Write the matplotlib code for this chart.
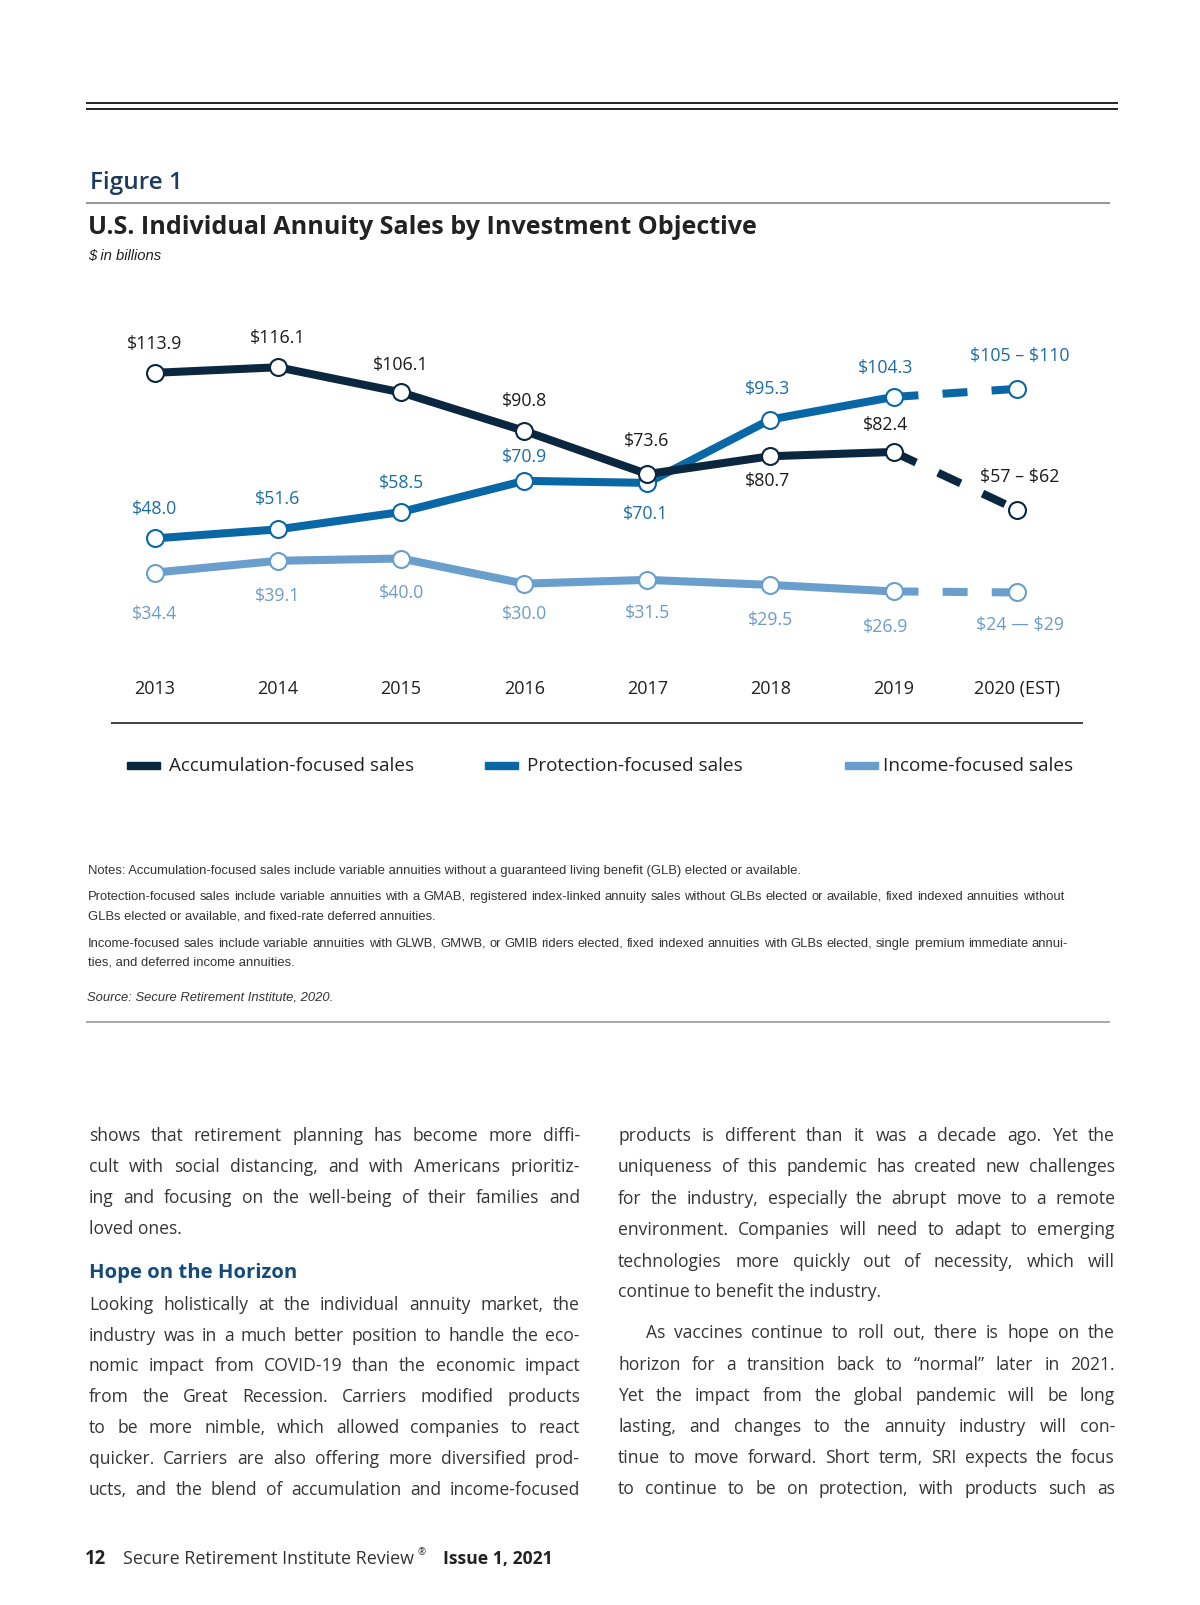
import matplotlib
matplotlib.use("Agg")
import matplotlib.pyplot as plt
from matplotlib.lines import Line2D
from matplotlib.patches import Rectangle

W, H = 1200, 1606

# ---- data ----
years = ["2013", "2014", "2015", "2016", "2017", "2018", "2019", "2020 (EST)"]
accumulation = [113.9, 116.1, 106.1, 90.8, 73.6, 80.7, 82.4, 59.5]
protection = [48.0, 51.6, 58.5, 70.9, 70.1, 95.3, 104.3, 107.5]
income = [34.4, 39.1, 40.0, 30.0, 31.5, 29.5, 26.9, 26.5]
acc_labels = ["$113.9", "$116.1", "$106.1", "$90.8", "$73.6", "$80.7", "$82.4", r"\$57 – \$62"]
pro_labels = ["$48.0", "$51.6", "$58.5", "$70.9", "$70.1", "$95.3", "$104.3", r"\$105 – \$110"]
inc_labels = ["$34.4", "$39.1", "$40.0", "$30.0", "$31.5", "$29.5", "$26.9", r"\$24 — \$29"]
series_names = ["Accumulation-focused sales", "Protection-focused sales", "Income-focused sales"]

# label offsets from the marker, in pixels (x right, y down)
acc_off = [(0, -30), (0, -30), (0, -28), (0, -31), (-1, -34), (-3, 24), (-8, -28), (3, -34)]
pro_off = [(0, -30), (0, -31), (0, -30), (0, -25), (-2, 30), (-3, -32), (-8, -30), (3, -34)]
inc_off = [(0, 40), (0, 34), (0, 33), (0, 29), (0, 32), (0, 34), (-8, 35), (3, 32)]

C_ACC = "#0b2740"
C_PRO = "#0a67a5"
C_INC = "#6a9ecc"
T_ACC = "#1b1b1b"
T_PRO = "#1d6ca3"
T_INC = "#6d9cc7"

notes = [
    "Notes: Accumulation-focused sales include variable annuities without a guaranteed living benefit (GLB) elected or available.",
    "Protection-focused sales include variable annuities with a GMAB, registered index-linked annuity sales without GLBs elected or available, fixed indexed annuities without",
    "GLBs elected or available, and fixed-rate deferred annuities.",
    "Income-focused sales include variable annuities with GLWB, GMWB, or GMIB riders elected, fixed indexed annuities with GLBs elected, single premium immediate annui-",
    "ties, and deferred income annuities.",
]
source = "Source: Secure Retirement Institute, 2020."

left_col = [
    "shows that retirement planning has become more diffi-",
    "cult with social distancing, and with Americans prioritiz-",
    "ing and focusing on the well-being of their families and",
    "loved ones.",
    "Looking holistically at the individual annuity market, the",
    "industry was in a much better position to handle the eco-",
    "nomic impact from COVID-19 than the economic impact",
    "from the Great Recession. Carriers modified products",
    "to be more nimble, which allowed companies to react",
    "quicker. Carriers are also offering more diversified prod-",
    "ucts, and the blend of accumulation and income-focused",
]
right_col = [
    "products is different than it was a decade ago. Yet the",
    "uniqueness of this pandemic has created new challenges",
    "for the industry, especially the abrupt move to a remote",
    "environment. Companies will need to adapt to emerging",
    "technologies more quickly out of necessity, which will",
    "continue to benefit the industry.",
    "As vaccines continue to roll out, there is hope on the",
    "horizon for a transition back to \u201cnormal\u201d later in 2021.",
    "Yet the impact from the global pandemic will be long",
    "lasting, and changes to the annuity industry will con-",
    "tinue to move forward. Short term, SRI expects the focus",
    "to continue to be on protection, with products such as",
]

plt.rcParams["font.family"] = ["Open Sans", "DejaVu Sans"]

fig = plt.figure(figsize=(W / 100, H / 100), dpi=100)
renderer = fig.canvas.get_renderer()


def fx(x):
    return x / W


def fy(y):
    return 1 - y / H


def hline(y, x0, x1, color, lw):
    fig.add_artist(Line2D([fx(x0), fx(x1)], [fy(y), fy(y)], color=color, lw=lw,
                          transform=fig.transFigure, solid_capstyle="butt"))


def text_width(s, **kw):
    t = fig.text(0, 0, s, **kw)
    w = t.get_window_extent(renderer).width
    t.remove()
    return w


def fit_text(x, y, s, width, **kw):
    t = fig.text(fx(x), fy(y), s, fontsize=10, va="center", **kw)
    w = t.get_window_extent(renderer).width
    t.set_fontsize(10 * width / w)
    return t


def put_line(s, x0, x1, y, justify=True, **kw):
    words = s.split()
    if not justify or len(words) < 2:
        fig.text(fx(x0), fy(y), s, va="center", **kw)
        return
    arts = [fig.text(0, fy(y), w, va="center", **kw) for w in words]
    widths = [a.get_window_extent(renderer).width for a in arts]
    gap = (x1 - x0 - sum(widths)) / (len(words) - 1)
    x = x0
    for a, w in zip(arts, widths):
        a.set_x(fx(x))
        x += w + gap


# ---- page header ----
hline(104, 86, 1118, "#222222", 1.4)
hline(110, 86, 1118, "#222222", 1.4)
fit_text(90, 183, "Figure 1", 93, color="#1e3a5e", fontweight="semibold")
hline(204, 86, 1110, "#9a9a9a", 1.5)
fit_text(88, 228, "U.S. Individual Annuity Sales by Investment Objective", 670,
         color="#222222", fontweight="bold")
fit_text(88, 256, "$ in billions", 74, color="#222222", style="italic",
         family=["Liberation Sans"])

# ---- chart ----
x0_px, step_px = 154.9, 123.1
ymin, ymax = 20, 125
px_per_unit = 2.513
y_top = 373.8 - (ymax - 113.9) * px_per_unit
y_bot = 373.8 + (113.9 - ymin) * px_per_unit
ax_l = x0_px - 0.5 * step_px
ax_r = x0_px + 7.5 * step_px
ax = fig.add_axes([fx(ax_l), fy(y_bot), (ax_r - ax_l) / W, (y_bot - y_top) / H])
ax.set_xlim(-0.5, 7.5)
ax.set_ylim(ymin, ymax)
ax.axis("off")

xs = list(range(len(years)))
lw = 5.8
for vals, col, z in [(income, C_INC, 2), (protection, C_PRO, 3), (accumulation, C_ACC, 4)]:
    ax.plot(xs[:7], vals[:7], color=col, lw=lw, zorder=z, solid_capstyle="butt")
    ax.plot(xs[6:], vals[6:], color=col, lw=lw, zorder=z, dashes=(3.1, 3.0),
            dash_capstyle="butt")
    ax.plot(xs, vals, ls="none", marker="o", ms=12.2, mfc="white", mec=col,
            mew=1.5, zorder=z + 0.5)

for vals, labs, offs, col in [(accumulation, acc_labels, acc_off, T_ACC),
                              (protection, pro_labels, pro_off, T_PRO),
                              (income, inc_labels, inc_off, T_INC)]:
    for x, v, lab, (dx, dy) in zip(xs, vals, labs, offs):
        ax.annotate(lab, (x, v), xytext=(dx * 0.72, -dy * 0.72), textcoords="offset points",
                    ha="center", va="center", fontsize=12.8, color=col)

ylab = (y_bot - 689) / (y_bot - y_top)
for x, yr in zip(xs, years):
    ax.text(x, ylab, yr, transform=ax.get_xaxis_transform(), ha="center", va="center",
            fontsize=13, color="#1f1f1f")

hline(724, 111, 1083, "#222222", 1.2)

# legend
leg_x = [127, 485, 845]
leg_tx = [169, 527, 883]
for sx, tx, name, col in zip(leg_x, leg_tx, series_names, [C_ACC, C_PRO, C_INC]):
    fig.add_artist(Rectangle((fx(sx), fy(769.5)), 33 / W, 7 / H, color=col,
                             transform=fig.transFigure))
    fig.text(fx(tx), fy(766), name, va="center", fontsize=13.6, color="#222222")

# ---- notes ----
narrow = ["Liberation Sans"]
t = fit_text(88, 871, notes[0], 713, color="#333333", family=narrow)
nsize = t.get_fontsize()
put_line(notes[1], 88, 1064, 897, fontsize=nsize, color="#333333", family=narrow)
put_line(notes[2], 88, 1064, 917, justify=False, fontsize=nsize, color="#333333", family=narrow)
put_line(notes[3], 88, 1068, 944, fontsize=nsize, color="#333333", family=narrow)
put_line(notes[4], 88, 1068, 963, justify=False, fontsize=nsize, color="#333333", family=narrow)
fig.text(fx(87), fy(998), source, va="center", fontsize=nsize, style="italic",
         color="#333333", family=narrow)
hline(1023, 86, 1110, "#9a9a9a", 1.2)

# ---- body text ----
# pick the largest size (up to 13pt) that still leaves room between words
ratio = min(491 / text_width(s, fontsize=10) for s in left_col[4:]) 
ratio = min(ratio, min(497 / text_width(s, fontsize=10) for s in right_col[:5] + right_col[7:]))
bsize = min(13.0, 10 * ratio * 0.95)
body = dict(fontsize=bsize, color="#353535")
left_y = [1136, 1167, 1198, 1229, 1305, 1336, 1366, 1397, 1428, 1459, 1490]
left_just = [True, True, True, False, True, True, True, True, True, True, True]
for s, y, j in zip(left_col, left_y, left_just):
    put_line(s, 89, 580, y, justify=j, **body)
fig.text(fx(89), fy(1273), "Hope on the Horizon", va="center", fontsize=14.6,
         fontweight="bold", color="#134b7d")

right_y = [1136, 1167, 1199, 1230, 1262, 1292, 1333, 1365, 1396, 1427, 1458, 1489]
right_just = [True, True, True, True, True, False, True, True, True, True, True, True]
for i, (s, y, j) in enumerate(zip(right_col, right_y, right_just)):
    xl = 646 if i == 6 else 618
    put_line(s, xl, 1115, y, justify=j, **body)

# ---- footer ----
fit_text(85, 1559, "12", 21, fontweight="bold", color="#222222")
ft = fit_text(123, 1559, "Secure Retirement Institute Review", 292, color="#333333")
fig.text(fx(418), fy(1553), "\u00ae", va="center", fontsize=7, color="#333333")
fit_text(443, 1559, "Issue 1, 2021", 110, fontweight="bold", color="#222222")

fig.savefig("out.png", dpi=100, facecolor="white")
